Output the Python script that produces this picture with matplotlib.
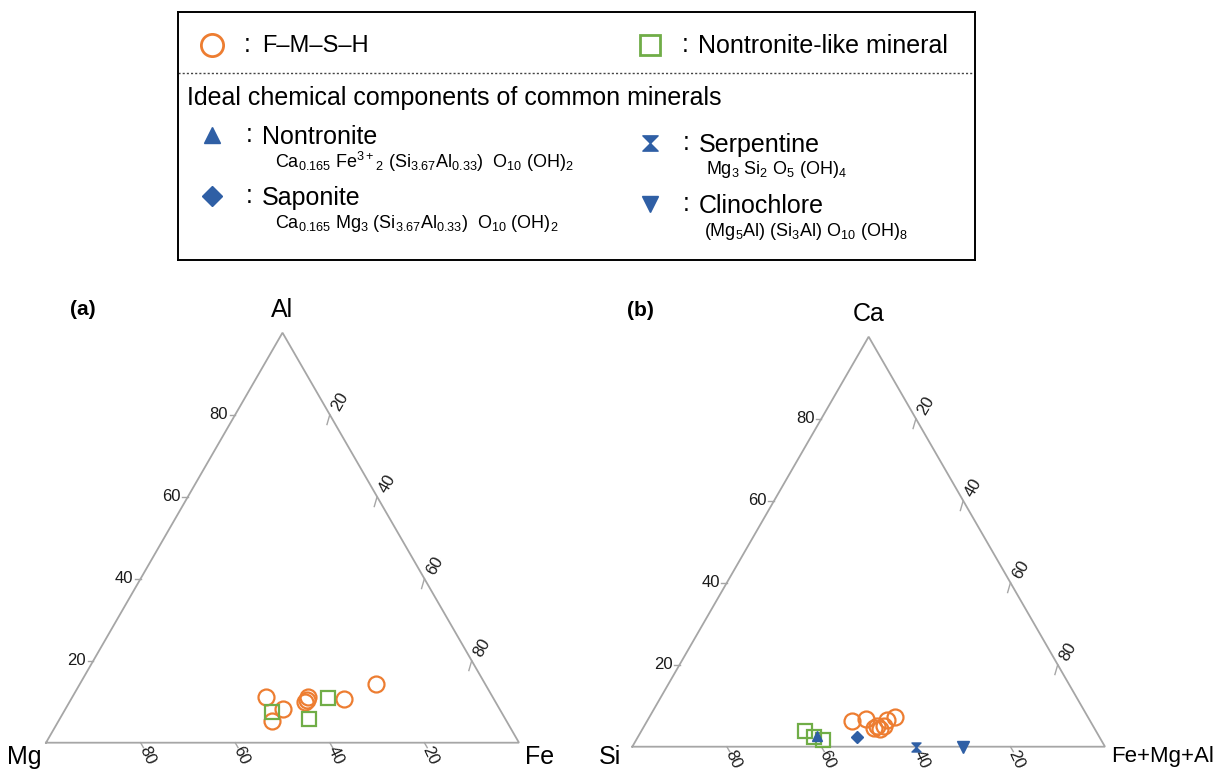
import numpy as np
import matplotlib
matplotlib.use("Agg")
import matplotlib.pyplot as plt
from matplotlib.path import Path

plt.rcParams['font.family'] = ['Liberation Sans', 'DejaVu Sans']
plt.rcParams['mathtext.fontset'] = 'custom'
plt.rcParams['mathtext.rm'] = 'Liberation Sans'
plt.rcParams['mathtext.it'] = 'Liberation Sans'
plt.rcParams['mathtext.bf'] = 'Liberation Sans:bold'
plt.rcParams['mathtext.default'] = 'regular'

# ---------------- data (percent) ----------------
# (a) Mg - Al - Fe
fmsh_a_mg = [48.0, 45.8, 49.5, 39.6, 39.1, 40.2, 31.7, 23.1]
fmsh_a_al = [11.1, 8.1, 5.4, 10.5, 11.1, 10.0, 10.7, 14.2]
fmsh_a_fe = [40.9, 46.1, 45.1, 49.9, 49.8, 49.8, 57.6, 62.7]

nont_a_mg = [48.5, 34.9, 41.5]
nont_a_al = [7.4, 10.9, 5.9]
nont_a_fe = [44.1, 54.2, 52.6]

# (b) Si - Ca - (Fe+Mg+Al)
fmsh_b_si = [50.4, 47.2, 46.6, 45.4, 44.2, 42.9, 40.8, 45.7]
fmsh_b_ca = [6.3, 6.8, 4.6, 4.3, 5.1, 6.5, 7.3, 5.1]
fmsh_b_fma = [43.3, 46.0, 48.8, 50.3, 50.7, 50.6, 51.9, 49.2]

nont_b_si = [61.6, 60.4, 58.8]
nont_b_ca = [3.8, 2.4, 1.6]
nont_b_fma = [34.6, 37.2, 39.6]

# ideal formula units: (Ca, Si, Fe+Mg+Al)
mineral_names = ["Nontronite", "Saponite", "Serpentine", "Clinochlore"]
mineral_ca = [0.165, 0.165, 0.0, 0.0]
mineral_si = [3.67, 3.67, 2.0, 3.0]
mineral_fma = [2.0 + 0.33, 3.0 + 0.33, 3.0, 5.0 + 1.0 + 1.0]

ticks = [20, 40, 60, 80]

ORANGE = '#ED7D31'
GREEN = '#70AD47'
BLUE = '#2F5FA5'
EDGE = '#A6A6A6'

W, H = 1226, 770
fig = plt.figure(figsize=(W / 100, H / 100), dpi=100)
S3 = np.sqrt(3) / 2

# hourglass marker
hourglass = Path([(-1, 1), (1, 1), (0, 0), (1, -1), (-1, -1), (0, 0), (-1, 1)],
                 [Path.MOVETO, Path.LINETO, Path.LINETO, Path.LINETO,
                  Path.LINETO, Path.LINETO, Path.CLOSEPOLY])


def px_axes(x0, y0, x1, y1):
    return fig.add_axes([x0 / W, 1 - y1 / H, (x1 - x0) / W, (y1 - y0) / H])


def tern(top, right, left):
    top = np.asarray(top, float)
    right = np.asarray(right, float)
    left = np.asarray(left, float)
    s = top + right + left
    t, r = top / s, right / s
    return r + t / 2, t * S3


def ternary_frame(ax, top_lbl, right_lbl, left_lbl, panel, panel_x, panel_y,
                  corner_y, right_fs):
    ax.set_xlim(0, 1)
    ax.set_ylim(0, S3)
    ax.axis('off')
    ax.plot([0, 1, 0.5, 0], [0, 0, S3, 0], color=EDGE, lw=1.3,
            solid_joinstyle='miter', clip_on=False, zorder=1)
    L = 0.012
    for v in ticks:
        f = v / 100
        # left edge: top component
        x, y = f / 2, f * S3
        ax.plot([x, x - L], [y, y], color=EDGE, lw=1.0, clip_on=False)
        ax.text(x - L - 0.003, y, str(v), ha='right', va='center',
                fontsize=12, color='#1a1a1a')
        # right edge: right component
        x, y = (1 + f) / 2, (1 - f) * S3
        ax.plot([x, x - 0.5 * L], [y, y - S3 * 2 * L], color=EDGE, lw=1.0,
                clip_on=False)
        ax.text(x + 0.022, y + 0.028, str(v), ha='center', va='center',
                rotation=60, fontsize=12, color='#1a1a1a')
        # bottom edge: left component
        x, y = 1 - f, 0
        ax.plot([x, x + 0.5 * L], [y, y - S3 * L], color=EDGE, lw=1.0,
                clip_on=False)
        ax.text(x + 0.013, y - 0.027, str(v), ha='center', va='center',
                rotation=-65, fontsize=12, color='#1a1a1a')
    ax.text(0.5, S3 + 0.047, top_lbl, ha='center', va='center', fontsize=18)
    ax.text(-0.047, corner_y, left_lbl, ha='center', va='center', fontsize=18)
    ax.text(1.012, corner_y, right_lbl, ha='left', va='center', fontsize=right_fs)
    ax.text(panel_x, panel_y, panel, ha='center', va='center', fontsize=15,
            fontweight='bold')


# ---------------- panel (a) ----------------
ax_a = px_axes(46, 332.7, 519, 742.7)
ternary_frame(ax_a, 'Al', 'Fe', 'Mg', '(a)', 0.078, S3 + 0.048, -0.031, 18)
x, y = tern(fmsh_a_al, fmsh_a_fe, fmsh_a_mg)
ax_a.plot(x, y, 'o', ms=11.5, mfc='none', mec=ORANGE, mew=1.6, ls='none', clip_on=False)
x, y = tern(nont_a_al, nont_a_fe, nont_a_mg)
ax_a.plot(x, y, 's', ms=10, mfc='none', mec=GREEN, mew=1.6, ls='none', clip_on=False)

# ---------------- panel (b) ----------------
ax_b = px_axes(632.3, 336.7, 1105, 746.7)
ternary_frame(ax_b, 'Ca', 'Fe+Mg+Al', 'Si', '(b)', 0.018, S3 + 0.056, -0.021, 16)
x, y = tern(fmsh_b_ca, fmsh_b_fma, fmsh_b_si)
ax_b.plot(x, y, 'o', ms=11.5, mfc='none', mec=ORANGE, mew=1.6, ls='none', clip_on=False)
x, y = tern(nont_b_ca, nont_b_fma, nont_b_si)
ax_b.plot(x, y, 's', ms=10, mfc='none', mec=GREEN, mew=1.6, ls='none', clip_on=False)

mineral_markers = {'Nontronite': ('^', 7.5), 'Saponite': ('D', 6),
                   'Serpentine': (hourglass, 6.5), 'Clinochlore': ('v', 8)}
mx, my = tern(mineral_ca, mineral_fma, mineral_si)
for name, xi, yi in zip(mineral_names, mx, my):
    m, s = mineral_markers[name]
    ax_b.plot([xi], [yi], marker=m, ms=s, color=BLUE, mec=BLUE, ls='none',
              clip_on=False, zorder=3)

# ---------------- legend box ----------------
lg = px_axes(178, 12, 975, 260)
lg.set_xlim(178, 975)
lg.set_ylim(260, 12)
lg.set_xticks([])
lg.set_yticks([])
for sp in lg.spines.values():
    sp.set_linewidth(1.4)
    sp.set_color('black')

lg.plot([212], [45], 'o', ms=16, mfc='none', mec=ORANGE, mew=2)
lg.text(244, 45, ':', fontsize=18, va='center', ha='left')
lg.text(262, 46, 'F\u2013M\u2013S\u2013H', fontsize=17, va='center', ha='left')
lg.plot([650], [45], 's', ms=15, mfc='none', mec=GREEN, mew=2)
lg.text(682, 45, ':', fontsize=18, va='center', ha='left')
lg.text(698, 46, 'Nontronite-like mineral', fontsize=18, va='center', ha='left')

lg.plot([178, 975], [73, 73], ls=(0, (1.5, 1.5)), color='#444444', lw=1.0)
lg.text(187, 98, 'Ideal chemical components of common minerals', fontsize=18,
        va='center', ha='left')

formulas = {
    'Nontronite': r'Ca$_{0.165}$ Fe$^{3+}$$_{2}$ (Si$_{3.67}$Al$_{0.33}$)  O$_{10}$ (OH)$_{2}$',
    'Saponite': r'Ca$_{0.165}$ Mg$_{3}$ (Si$_{3.67}$Al$_{0.33}$)  O$_{10}$ (OH)$_{2}$',
    'Serpentine': r'Mg$_{3}$ Si$_{2}$ O$_{5}$ (OH)$_{4}$',
    'Clinochlore': r'(Mg$_{5}$Al) (Si$_{3}$Al) O$_{10}$ (OH)$_{8}$',
}
legend_pos = {'Nontronite': (212, 135, 262, 275), 'Saponite': (212, 196, 262, 275),
              'Serpentine': (650, 143, 699, 706), 'Clinochlore': (650, 204, 699, 704)}
legend_ms = {'Nontronite': 11, 'Saponite': 10, 'Serpentine': 11, 'Clinochlore': 11}
for name in mineral_names:
    mxp, myp, tx, fx = legend_pos[name]
    m, _ = mineral_markers[name]
    lg.plot([mxp], [myp], marker=m, ms=legend_ms[name], color=BLUE, ls='none')
    lg.text(tx - 16, myp, ':', fontsize=18, va='center', ha='left')
    lg.text(tx, myp + 2, name, fontsize=18, va='center', ha='left')
    lg.text(fx, myp + 27, formulas[name], fontsize=13, va='center', ha='left')

fig.savefig('out.png', dpi=100)
